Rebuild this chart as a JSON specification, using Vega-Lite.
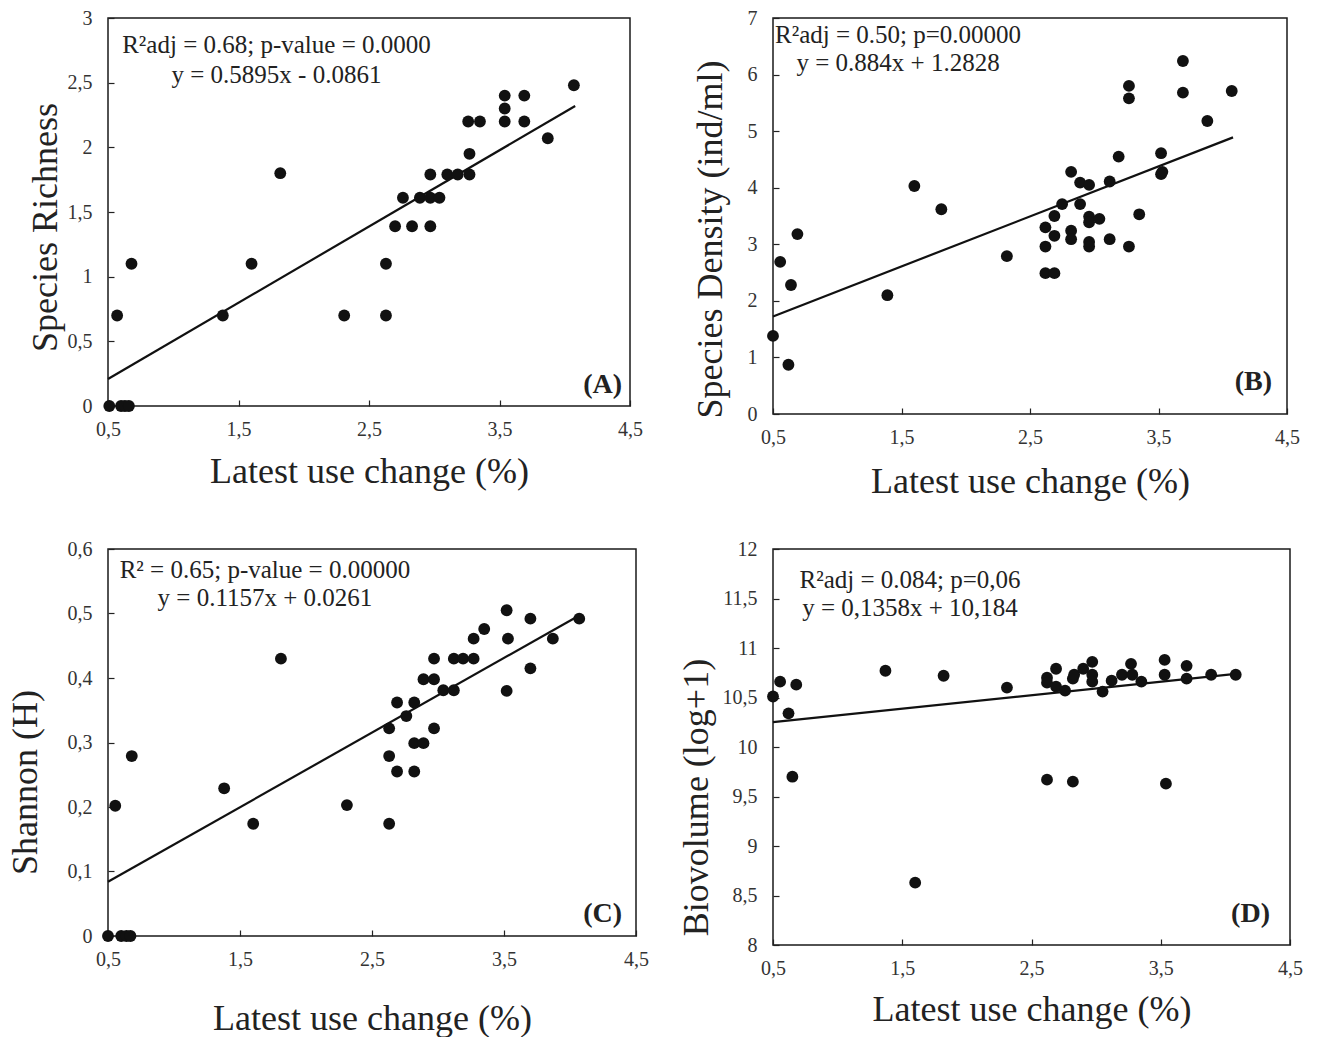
{
  "$schema": "https://vega.github.io/schema/vega-lite/v6.json",
  "padding": {"left": 6, "top": 7, "right": 5, "bottom": 2},
  "columns": 2,
  "bounds": "flush",
  "spacing": {"row": 135, "column": 137},
  "config": {
    "font": "Liberation Serif",
    "view": {"stroke": "#1a1a1a", "strokeWidth": 1.5},
    "axis": {
      "domain": false,
      "grid": false,
      "tickColor": "#222",
      "tickSize": -6,
      "tickWidth": 1.2,
      "labelFont": "Liberation Serif",
      "labelFontSize": 20,
      "labelColor": "#333",
      "labelFlush": false,
      "labelOverlap": false,
      "titleFont": "Liberation Serif",
      "titleFontSize": 36,
      "titleFontWeight": "normal",
      "titleColor": "#222"
    },
    "axisX": {"labelPadding": 19},
    "axisY": {"labelPadding": 22}
  },
  "datasets": {
    "richness": [
      {"x": 0.51, "y": 0, "kind": "obs"}, {"x": 0.6, "y": 0, "kind": "obs"}, {"x": 0.63, "y": 0, "kind": "obs"}, {"x": 0.66, "y": 0, "kind": "obs"},
      {"x": 0.57, "y": 0.7, "kind": "obs"}, {"x": 0.68, "y": 1.1, "kind": "obs"}, {"x": 1.38, "y": 0.7, "kind": "obs"}, {"x": 1.6, "y": 1.1, "kind": "obs"},
      {"x": 1.82, "y": 1.8, "kind": "obs"}, {"x": 2.31, "y": 0.7, "kind": "obs"}, {"x": 2.63, "y": 0.7, "kind": "obs"}, {"x": 2.63, "y": 1.1, "kind": "obs"},
      {"x": 2.7, "y": 1.39, "kind": "obs"}, {"x": 2.76, "y": 1.61, "kind": "obs"}, {"x": 2.83, "y": 1.39, "kind": "obs"}, {"x": 2.89, "y": 1.61, "kind": "obs"},
      {"x": 2.97, "y": 1.61, "kind": "obs"}, {"x": 2.97, "y": 1.39, "kind": "obs"}, {"x": 2.97, "y": 1.79, "kind": "obs"}, {"x": 3.04, "y": 1.61, "kind": "obs"},
      {"x": 3.1, "y": 1.79, "kind": "obs"}, {"x": 3.18, "y": 1.79, "kind": "obs"}, {"x": 3.27, "y": 1.79, "kind": "obs"}, {"x": 3.27, "y": 1.95, "kind": "obs"},
      {"x": 3.26, "y": 2.2, "kind": "obs"}, {"x": 3.35, "y": 2.2, "kind": "obs"}, {"x": 3.54, "y": 2.2, "kind": "obs"}, {"x": 3.54, "y": 2.3, "kind": "obs"},
      {"x": 3.54, "y": 2.4, "kind": "obs"}, {"x": 3.69, "y": 2.4, "kind": "obs"}, {"x": 3.69, "y": 2.2, "kind": "obs"}, {"x": 3.87, "y": 2.07, "kind": "obs"},
      {"x": 4.07, "y": 2.48, "kind": "obs"},
      {"x": 0.5, "y": 0.2087, "kind": "fit"}, {"x": 4.08, "y": 2.3191, "kind": "fit"}
    ],
    "density": [
      {"x": 0.5, "y": 1.38, "kind": "obs"}, {"x": 0.556, "y": 2.69, "kind": "obs"}, {"x": 0.62, "y": 0.87, "kind": "obs"}, {"x": 0.64, "y": 2.28, "kind": "obs"},
      {"x": 0.69, "y": 3.18, "kind": "obs"}, {"x": 1.39, "y": 2.1, "kind": "obs"}, {"x": 1.6, "y": 4.03, "kind": "obs"}, {"x": 1.81, "y": 3.62, "kind": "obs"},
      {"x": 2.32, "y": 2.79, "kind": "obs"}, {"x": 2.62, "y": 2.96, "kind": "obs"}, {"x": 2.62, "y": 3.3, "kind": "obs"}, {"x": 2.62, "y": 2.49, "kind": "obs"},
      {"x": 2.69, "y": 2.49, "kind": "obs"}, {"x": 2.69, "y": 3.15, "kind": "obs"}, {"x": 2.69, "y": 3.5, "kind": "obs"}, {"x": 2.75, "y": 3.71, "kind": "obs"},
      {"x": 2.82, "y": 4.28, "kind": "obs"}, {"x": 2.82, "y": 3.24, "kind": "obs"}, {"x": 2.82, "y": 3.09, "kind": "obs"}, {"x": 2.89, "y": 4.09, "kind": "obs"},
      {"x": 2.89, "y": 3.71, "kind": "obs"}, {"x": 2.96, "y": 4.05, "kind": "obs"}, {"x": 2.96, "y": 3.49, "kind": "obs"}, {"x": 2.96, "y": 3.39, "kind": "obs"},
      {"x": 2.96, "y": 3.04, "kind": "obs"}, {"x": 2.96, "y": 2.96, "kind": "obs"}, {"x": 3.04, "y": 3.45, "kind": "obs"}, {"x": 3.12, "y": 4.11, "kind": "obs"},
      {"x": 3.12, "y": 3.09, "kind": "obs"}, {"x": 3.19, "y": 4.55, "kind": "obs"}, {"x": 3.27, "y": 5.8, "kind": "obs"}, {"x": 3.27, "y": 5.58, "kind": "obs"},
      {"x": 3.27, "y": 2.96, "kind": "obs"}, {"x": 3.35, "y": 3.53, "kind": "obs"}, {"x": 3.52, "y": 4.61, "kind": "obs"}, {"x": 3.52, "y": 4.24, "kind": "obs"},
      {"x": 3.53, "y": 4.28, "kind": "obs"}, {"x": 3.69, "y": 6.24, "kind": "obs"}, {"x": 3.69, "y": 5.68, "kind": "obs"}, {"x": 3.88, "y": 5.18, "kind": "obs"},
      {"x": 4.07, "y": 5.71, "kind": "obs"},
      {"x": 0.5, "y": 1.7248, "kind": "fit"}, {"x": 4.08, "y": 4.8895, "kind": "fit"}
    ],
    "shannon": [
      {"x": 0.5, "y": 0, "kind": "obs"}, {"x": 0.6, "y": 0, "kind": "obs"}, {"x": 0.64, "y": 0, "kind": "obs"}, {"x": 0.67, "y": 0, "kind": "obs"},
      {"x": 0.555, "y": 0.202, "kind": "obs"}, {"x": 0.68, "y": 0.279, "kind": "obs"}, {"x": 1.38, "y": 0.229, "kind": "obs"}, {"x": 1.6, "y": 0.174, "kind": "obs"},
      {"x": 1.81, "y": 0.43, "kind": "obs"}, {"x": 2.31, "y": 0.203, "kind": "obs"}, {"x": 2.63, "y": 0.174, "kind": "obs"}, {"x": 2.63, "y": 0.279, "kind": "obs"},
      {"x": 2.63, "y": 0.322, "kind": "obs"}, {"x": 2.69, "y": 0.255, "kind": "obs"}, {"x": 2.69, "y": 0.362, "kind": "obs"}, {"x": 2.76, "y": 0.341, "kind": "obs"},
      {"x": 2.82, "y": 0.362, "kind": "obs"}, {"x": 2.82, "y": 0.299, "kind": "obs"}, {"x": 2.82, "y": 0.255, "kind": "obs"}, {"x": 2.89, "y": 0.299, "kind": "obs"},
      {"x": 2.89, "y": 0.398, "kind": "obs"}, {"x": 2.97, "y": 0.398, "kind": "obs"}, {"x": 2.97, "y": 0.43, "kind": "obs"}, {"x": 2.97, "y": 0.322, "kind": "obs"},
      {"x": 3.04, "y": 0.381, "kind": "obs"}, {"x": 3.12, "y": 0.381, "kind": "obs"}, {"x": 3.12, "y": 0.43, "kind": "obs"}, {"x": 3.19, "y": 0.43, "kind": "obs"},
      {"x": 3.27, "y": 0.43, "kind": "obs"}, {"x": 3.27, "y": 0.461, "kind": "obs"}, {"x": 3.35, "y": 0.476, "kind": "obs"}, {"x": 3.52, "y": 0.505, "kind": "obs"},
      {"x": 3.53, "y": 0.461, "kind": "obs"}, {"x": 3.52, "y": 0.38, "kind": "obs"}, {"x": 3.7, "y": 0.492, "kind": "obs"}, {"x": 3.7, "y": 0.415, "kind": "obs"},
      {"x": 3.87, "y": 0.461, "kind": "obs"}, {"x": 4.07, "y": 0.492, "kind": "obs"},
      {"x": 0.5, "y": 0.084, "kind": "fit"}, {"x": 4.07, "y": 0.497, "kind": "fit"}
    ],
    "biovolume": [
      {"x": 0.5, "y": 10.51, "kind": "obs"}, {"x": 0.555, "y": 10.66, "kind": "obs"}, {"x": 0.62, "y": 10.34, "kind": "obs"}, {"x": 0.65, "y": 9.7, "kind": "obs"},
      {"x": 0.68, "y": 10.63, "kind": "obs"}, {"x": 1.37, "y": 10.77, "kind": "obs"}, {"x": 1.6, "y": 8.63, "kind": "obs"}, {"x": 1.82, "y": 10.72, "kind": "obs"},
      {"x": 2.31, "y": 10.6, "kind": "obs"}, {"x": 2.62, "y": 9.67, "kind": "obs"}, {"x": 2.62, "y": 10.7, "kind": "obs"}, {"x": 2.62, "y": 10.65, "kind": "obs"},
      {"x": 2.69, "y": 10.79, "kind": "obs"}, {"x": 2.69, "y": 10.61, "kind": "obs"}, {"x": 2.76, "y": 10.57, "kind": "obs"}, {"x": 2.82, "y": 9.65, "kind": "obs"},
      {"x": 2.82, "y": 10.69, "kind": "obs"}, {"x": 2.83, "y": 10.73, "kind": "obs"}, {"x": 2.9, "y": 10.79, "kind": "obs"}, {"x": 2.97, "y": 10.86, "kind": "obs"},
      {"x": 2.97, "y": 10.73, "kind": "obs"}, {"x": 2.97, "y": 10.66, "kind": "obs"}, {"x": 3.05, "y": 10.56, "kind": "obs"}, {"x": 3.12, "y": 10.67, "kind": "obs"},
      {"x": 3.2, "y": 10.73, "kind": "obs"}, {"x": 3.27, "y": 10.84, "kind": "obs"}, {"x": 3.28, "y": 10.73, "kind": "obs"}, {"x": 3.35, "y": 10.66, "kind": "obs"},
      {"x": 3.53, "y": 10.88, "kind": "obs"}, {"x": 3.53, "y": 10.73, "kind": "obs"}, {"x": 3.54, "y": 9.63, "kind": "obs"}, {"x": 3.7, "y": 10.82, "kind": "obs"},
      {"x": 3.7, "y": 10.69, "kind": "obs"}, {"x": 3.89, "y": 10.73, "kind": "obs"}, {"x": 4.08, "y": 10.73, "kind": "obs"},
      {"x": 0.5, "y": 10.2519, "kind": "fit"}, {"x": 4.08, "y": 10.738, "kind": "fit"}
    ]
  },
  "concat": [
    {
      "width": 522, "height": 388,
      "data": {"name": "richness"},
      "layer": [
        {
          "transform": [{"filter": "datum.kind === 'fit'"}],
          "mark": {"type": "line", "color": "#111", "strokeWidth": 2.2},
          "encoding": {
            "x": {"field": "x", "type": "quantitative", "scale": {"domain": [0.5, 4.5], "nice": false, "zero": false},
              "axis": {"title": "Latest use change (%)", "values": [0.5, 1.5, 2.5, 3.5, 4.5], "labelExpr": "replace(format(datum.value, '~g'), '.', ',')", "titlePadding": 15}},
            "y": {"field": "y", "type": "quantitative", "scale": {"domain": [0, 3], "nice": false, "zero": false},
              "axis": {"title": "Species Richness", "values": [0, 0.5, 1, 1.5, 2, 2.5, 3], "labelExpr": "replace(format(datum.value, '~g'), '.', ',')", "titlePadding": 3, "titleY": 209}}
          }
        },
        {
          "transform": [{"filter": "datum.kind === 'obs'"}],
          "mark": {"type": "circle", "size": 140, "opacity": 1, "color": "#111"},
          "encoding": {
            "x": {"field": "x", "type": "quantitative", "scale": {"domain": [0.5, 4.5], "nice": false, "zero": false}},
            "y": {"field": "y", "type": "quantitative", "scale": {"domain": [0, 3], "nice": false, "zero": false}}
          }
        },
        {
          "data": {"values": [{"lines": ["R²adj = 0.68; p-value = 0.0000", "y = 0.5895x - 0.0861"]}]},
          "mark": {"type": "text", "align": "center", "baseline": "alphabetic", "fontSize": 25, "lineHeight": 30, "color": "#222"},
          "encoding": {
            "x": {"datum": 1.791, "type": "quantitative", "scale": {"domain": [0.5, 4.5], "nice": false, "zero": false}},
            "y": {"datum": 2.729, "type": "quantitative", "scale": {"domain": [0, 3], "nice": false, "zero": false}},
            "text": {"field": "lines"}
          }
        },
        {
          "data": {"values": [{"label": "(A)"}]},
          "mark": {"type": "text", "align": "right", "baseline": "alphabetic", "fontSize": 28, "fontWeight": "bold", "color": "#222"},
          "encoding": {
            "x": {"datum": 4.439, "type": "quantitative", "scale": {"domain": [0.5, 4.5], "nice": false, "zero": false}},
            "y": {"datum": 0.0995, "type": "quantitative", "scale": {"domain": [0, 3], "nice": false, "zero": false}},
            "text": {"field": "label"}
          }
        }
      ]
    },
    {
      "width": 514, "height": 396,
      "data": {"name": "density"},
      "layer": [
        {
          "transform": [{"filter": "datum.kind === 'fit'"}],
          "mark": {"type": "line", "color": "#111", "strokeWidth": 2.2},
          "encoding": {
            "x": {"field": "x", "type": "quantitative", "scale": {"domain": [0.5, 4.5], "nice": false, "zero": false},
              "axis": {"title": "Latest use change (%)", "values": [0.5, 1.5, 2.5, 3.5, 4.5], "labelExpr": "replace(format(datum.value, '~g'), '.', ',')", "titlePadding": 17}},
            "y": {"field": "y", "type": "quantitative", "scale": {"domain": [0, 7], "nice": false, "zero": false},
              "axis": {"title": "Species Density (ind/ml)", "values": [0, 1, 2, 3, 4, 5, 6, 7], "labelExpr": "replace(format(datum.value, '~g'), '.', ',')", "titlePadding": 18, "titleY": 221}}
          }
        },
        {
          "transform": [{"filter": "datum.kind === 'obs'"}],
          "mark": {"type": "circle", "size": 140, "opacity": 1, "color": "#111"},
          "encoding": {
            "x": {"field": "x", "type": "quantitative", "scale": {"domain": [0.5, 4.5], "nice": false, "zero": false}},
            "y": {"field": "y", "type": "quantitative", "scale": {"domain": [0, 7], "nice": false, "zero": false}}
          }
        },
        {
          "data": {"values": [{"lines": ["R²adj = 0.50; p=0.00000", "y = 0.884x + 1.2828"]}]},
          "mark": {"type": "text", "align": "center", "baseline": "alphabetic", "fontSize": 25, "lineHeight": 28, "color": "#222"},
          "encoding": {
            "x": {"datum": 1.473, "type": "quantitative", "scale": {"domain": [0.5, 4.5], "nice": false, "zero": false}},
            "y": {"datum": 6.558, "type": "quantitative", "scale": {"domain": [0, 7], "nice": false, "zero": false}},
            "text": {"field": "lines"}
          }
        },
        {
          "data": {"values": [{"label": "(B)"}]},
          "mark": {"type": "text", "align": "right", "baseline": "alphabetic", "fontSize": 28, "fontWeight": "bold", "color": "#222"},
          "encoding": {
            "x": {"datum": 4.383, "type": "quantitative", "scale": {"domain": [0.5, 4.5], "nice": false, "zero": false}},
            "y": {"datum": 0.424, "type": "quantitative", "scale": {"domain": [0, 7], "nice": false, "zero": false}},
            "text": {"field": "label"}
          }
        }
      ]
    },
    {
      "width": 528, "height": 387,
      "data": {"name": "shannon"},
      "layer": [
        {
          "transform": [{"filter": "datum.kind === 'fit'"}],
          "mark": {"type": "line", "color": "#111", "strokeWidth": 2.2},
          "encoding": {
            "x": {"field": "x", "type": "quantitative", "scale": {"domain": [0.5, 4.5], "nice": false, "zero": false},
              "axis": {"title": "Latest use change (%)", "values": [0.5, 1.5, 2.5, 3.5, 4.5], "labelExpr": "replace(format(datum.value, '~g'), '.', ',')", "titlePadding": 32}},
            "y": {"field": "y", "type": "quantitative", "scale": {"domain": [0, 0.6], "nice": false, "zero": false},
              "axis": {"title": "Shannon (H)", "values": [0, 0.1, 0.2, 0.3, 0.4, 0.5, 0.6], "labelExpr": "replace(format(datum.value, '~g'), '.', ',')", "titlePadding": 23, "titleY": 233}}
          }
        },
        {
          "transform": [{"filter": "datum.kind === 'obs'"}],
          "mark": {"type": "circle", "size": 140, "opacity": 1, "color": "#111"},
          "encoding": {
            "x": {"field": "x", "type": "quantitative", "scale": {"domain": [0.5, 4.5], "nice": false, "zero": false}},
            "y": {"field": "y", "type": "quantitative", "scale": {"domain": [0, 0.6], "nice": false, "zero": false}}
          }
        },
        {
          "data": {"values": [{"lines": ["R² = 0.65; p-value = 0.00000", "y = 0.1157x + 0.0261"]}]},
          "mark": {"type": "text", "align": "center", "baseline": "alphabetic", "fontSize": 25, "lineHeight": 28, "color": "#222"},
          "encoding": {
            "x": {"datum": 1.689, "type": "quantitative", "scale": {"domain": [0.5, 4.5], "nice": false, "zero": false}},
            "y": {"datum": 0.555, "type": "quantitative", "scale": {"domain": [0, 0.6], "nice": false, "zero": false}},
            "text": {"field": "lines"}
          }
        },
        {
          "data": {"values": [{"label": "(C)"}]},
          "mark": {"type": "text", "align": "right", "baseline": "alphabetic", "fontSize": 28, "fontWeight": "bold", "color": "#222"},
          "encoding": {
            "x": {"datum": 4.394, "type": "quantitative", "scale": {"domain": [0.5, 4.5], "nice": false, "zero": false}},
            "y": {"datum": 0.0217, "type": "quantitative", "scale": {"domain": [0, 0.6], "nice": false, "zero": false}},
            "text": {"field": "label"}
          }
        }
      ]
    },
    {
      "width": 517, "height": 396,
      "data": {"name": "biovolume"},
      "layer": [
        {
          "transform": [{"filter": "datum.kind === 'fit'"}],
          "mark": {"type": "line", "color": "#111", "strokeWidth": 2.2},
          "encoding": {
            "x": {"field": "x", "type": "quantitative", "scale": {"domain": [0.5, 4.5], "nice": false, "zero": false},
              "axis": {"title": "Latest use change (%)", "values": [0.5, 1.5, 2.5, 3.5, 4.5], "labelExpr": "replace(format(datum.value, '~g'), '.', ',')", "titlePadding": 14}},
            "y": {"field": "y", "type": "quantitative", "scale": {"domain": [8, 12], "nice": false, "zero": false},
              "axis": {"title": "Biovolume (log+1)", "values": [8, 8.5, 9, 9.5, 10, 10.5, 11, 11.5, 12], "labelExpr": "replace(format(datum.value, '~g'), '.', ',')", "titlePadding": 7, "titleY": 248}}
          }
        },
        {
          "transform": [{"filter": "datum.kind === 'obs'"}],
          "mark": {"type": "circle", "size": 140, "opacity": 1, "color": "#111"},
          "encoding": {
            "x": {"field": "x", "type": "quantitative", "scale": {"domain": [0.5, 4.5], "nice": false, "zero": false}},
            "y": {"field": "y", "type": "quantitative", "scale": {"domain": [8, 12], "nice": false, "zero": false}}
          }
        },
        {
          "data": {"values": [{"lines": ["R²adj = 0.084; p=0,06", "y = 0,1358x + 10,184"]}]},
          "mark": {"type": "text", "align": "center", "baseline": "alphabetic", "fontSize": 25, "lineHeight": 28, "color": "#222"},
          "encoding": {
            "x": {"datum": 1.56, "type": "quantitative", "scale": {"domain": [0.5, 4.5], "nice": false, "zero": false}},
            "y": {"datum": 11.606, "type": "quantitative", "scale": {"domain": [8, 12], "nice": false, "zero": false}},
            "text": {"field": "lines"}
          }
        },
        {
          "data": {"values": [{"label": "(D)"}]},
          "mark": {"type": "text", "align": "right", "baseline": "alphabetic", "fontSize": 28, "fontWeight": "bold", "color": "#222"},
          "encoding": {
            "x": {"datum": 4.345, "type": "quantitative", "scale": {"domain": [0.5, 4.5], "nice": false, "zero": false}},
            "y": {"datum": 8.232, "type": "quantitative", "scale": {"domain": [8, 12], "nice": false, "zero": false}},
            "text": {"field": "label"}
          }
        }
      ]
    }
  ]
}
